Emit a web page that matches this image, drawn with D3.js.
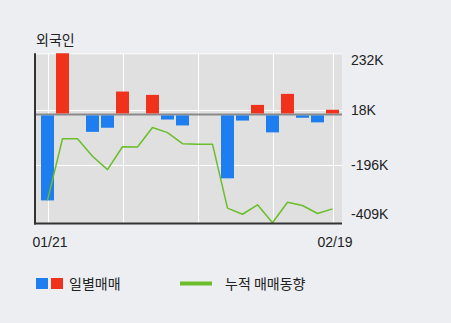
<!DOCTYPE html>
<html>
<head>
<meta charset="utf-8">
<script src="https://cdn.jsdelivr.net/npm/d3@7"></script>
<style>
  html, body { margin: 0; padding: 0; background: #eceef2; }
  svg { display: block; }
  .kr { font-family: "Noto Sans CJK KR", sans-serif; }
  .num { font-family: "Liberation Sans", Arial, sans-serif; }
</style>
</head>
<body>
<svg id="chart" width="451" height="323"></svg>
<script>
// Trading days shown on the x axis
const dates = ["01/21","01/22","01/23","01/28","01/29","01/30","01/31","02/03","02/04","02/05",
               "02/06","02/07","02/10","02/11","02/12","02/13","02/14","02/17","02/18","02/19"];
// Daily net foreign trading (thousand shares)
const daily = [-335, 240, 0, -68, -52, 89, -1, 76, -20, -43,
               -2, 0, -249, -24, 37, -70, 80, -13, -31, 18];
// Cumulative net foreign trading (thousand shares)
const cumulative = [-335, -95, -95, -163, -215, -126, -127, -51, -71, -114,
                    -116, -116, -365, -389, -352, -422, -342, -355, -386, -368];
// Right-hand axis ticks (thousand shares)
const tickValues = [232, 18, -196, -409];
const tickLabels = ["232K", "18K", "-196K", "-409K"];
// Date labels shown under the axis
const dateLabels = ["01/21", "02/19"];
// Dates that carry a vertical grid line
const gridDates = ["01/21", "01/30", "02/06", "02/13", "02/19"];

const svg = d3.select("#chart");
const plot = { left: 36, right: 342, top: 53.3, bottom: 223.5 };

const x = d3.scalePoint().domain(dates).range([47.5, 332.5]);
const y = d3.scaleLinear().domain([-425, 238]).range([plot.bottom, plot.top]);
const barW = 13;

// Title
svg.append("text").attr("class", "kr")
  .attr("x", 36).attr("y", 44.5)
  .attr("font-size", 14).attr("fill", "#222")
  .text("외국인");

// Plot background
svg.append("rect")
  .attr("x", plot.left).attr("y", plot.top)
  .attr("width", plot.right - plot.left).attr("height", plot.bottom - plot.top)
  .attr("fill", "#e0e0e0");

svg.append("defs").append("clipPath").attr("id", "clip")
  .append("rect")
  .attr("x", plot.left).attr("y", plot.top)
  .attr("width", plot.right - plot.left).attr("height", plot.bottom - plot.top);

// Grid lines
const grid = svg.append("g").attr("stroke", "#ffffff").attr("stroke-width", 1);
grid.append("line")
  .attr("x1", plot.left).attr("x2", plot.right)
  .attr("y1", plot.top + 0.5).attr("y2", plot.top + 0.5);
grid.selectAll("line.h").data(tickValues.slice(1, 3)).join("line").attr("class", "h")
  .attr("x1", plot.left).attr("x2", plot.right)
  .attr("y1", d => Math.round(y(d)) + 0.5).attr("y2", d => Math.round(y(d)) + 0.5);
grid.selectAll("line.v").data(gridDates).join("line").attr("class", "v")
  .attr("x1", d => Math.round(x(d)) + 0.5).attr("x2", d => Math.round(x(d)) + 0.5)
  .attr("y1", plot.top).attr("y2", plot.bottom);

// Zero line
svg.append("line")
  .attr("x1", plot.left).attr("x2", plot.right)
  .attr("y1", y(0)).attr("y2", y(0))
  .attr("stroke", "#8a8a8a").attr("stroke-width", 2);

// Daily bars
svg.append("g").attr("clip-path", "url(#clip)")
  .selectAll("rect").data(daily).join("rect")
  .attr("x", (d, i) => x(dates[i]) - barW / 2)
  .attr("width", barW)
  .attr("y", d => d >= 0 ? y(d) : y(0) + 1)
  .attr("height", d => d >= 0 ? Math.max(0, y(0) - 1 - y(d)) : Math.max(0, y(d) - y(0) - 1))
  .attr("fill", d => d >= 0 ? "#f0311c" : "#1e7ef0");

// Cumulative line
svg.append("path")
  .datum(cumulative)
  .attr("fill", "none")
  .attr("stroke", "#6bbd2a")
  .attr("stroke-width", 1.5)
  .attr("stroke-linejoin", "round")
  .attr("d", d3.line().x((d, i) => x(dates[i])).y(d => y(d)));

// Axes frame (left and bottom)
svg.append("line")
  .attr("x1", plot.left - 1).attr("x2", plot.left - 1)
  .attr("y1", plot.top).attr("y2", plot.bottom + 1)
  .attr("stroke", "#333").attr("stroke-width", 2);
svg.append("line")
  .attr("x1", plot.left - 2).attr("x2", plot.right)
  .attr("y1", plot.bottom).attr("y2", plot.bottom)
  .attr("stroke", "#333").attr("stroke-width", 2);

// Right tick labels
const tickG = svg.append("g").attr("class", "num").attr("font-size", 14).attr("fill", "#222");
tickG.selectAll("text").data(tickValues).join("text")
  .attr("x", 351)
  .attr("y", (d, i) => {
    let p = y(d);
    if (i === 0) p += 5;
    if (i === tickValues.length - 1) p -= 5;
    return p;
  })
  .attr("dy", "0.36em")
  .text((d, i) => tickLabels[i]);

// Date labels
svg.append("g").attr("class", "num").attr("font-size", 14).attr("fill", "#222")
  .selectAll("text").data(dateLabels).join("text")
  .attr("x", d => x(d) + 2.5)
  .attr("y", 247)
  .attr("text-anchor", "middle")
  .text(d => d);

// Legend
const lg = svg.append("g");
lg.append("rect").attr("x", 36).attr("y", 278).attr("width", 12).attr("height", 11).attr("fill", "#1e7ef0");
lg.append("rect").attr("x", 51).attr("y", 278).attr("width", 12).attr("height", 11).attr("fill", "#f0311c");
lg.append("text").attr("class", "kr").attr("x", 69).attr("y", 288.5)
  .attr("font-size", 14).attr("fill", "#222").text("일별매매");
lg.append("line").attr("x1", 180).attr("x2", 212).attr("y1", 283.5).attr("y2", 283.5)
  .attr("stroke", "#6bbd2a").attr("stroke-width", 4);
lg.append("text").attr("class", "kr").attr("x", 225).attr("y", 288.5)
  .attr("font-size", 14).attr("fill", "#222").text("누적 매매동향");
</script>
</body>
</html>
